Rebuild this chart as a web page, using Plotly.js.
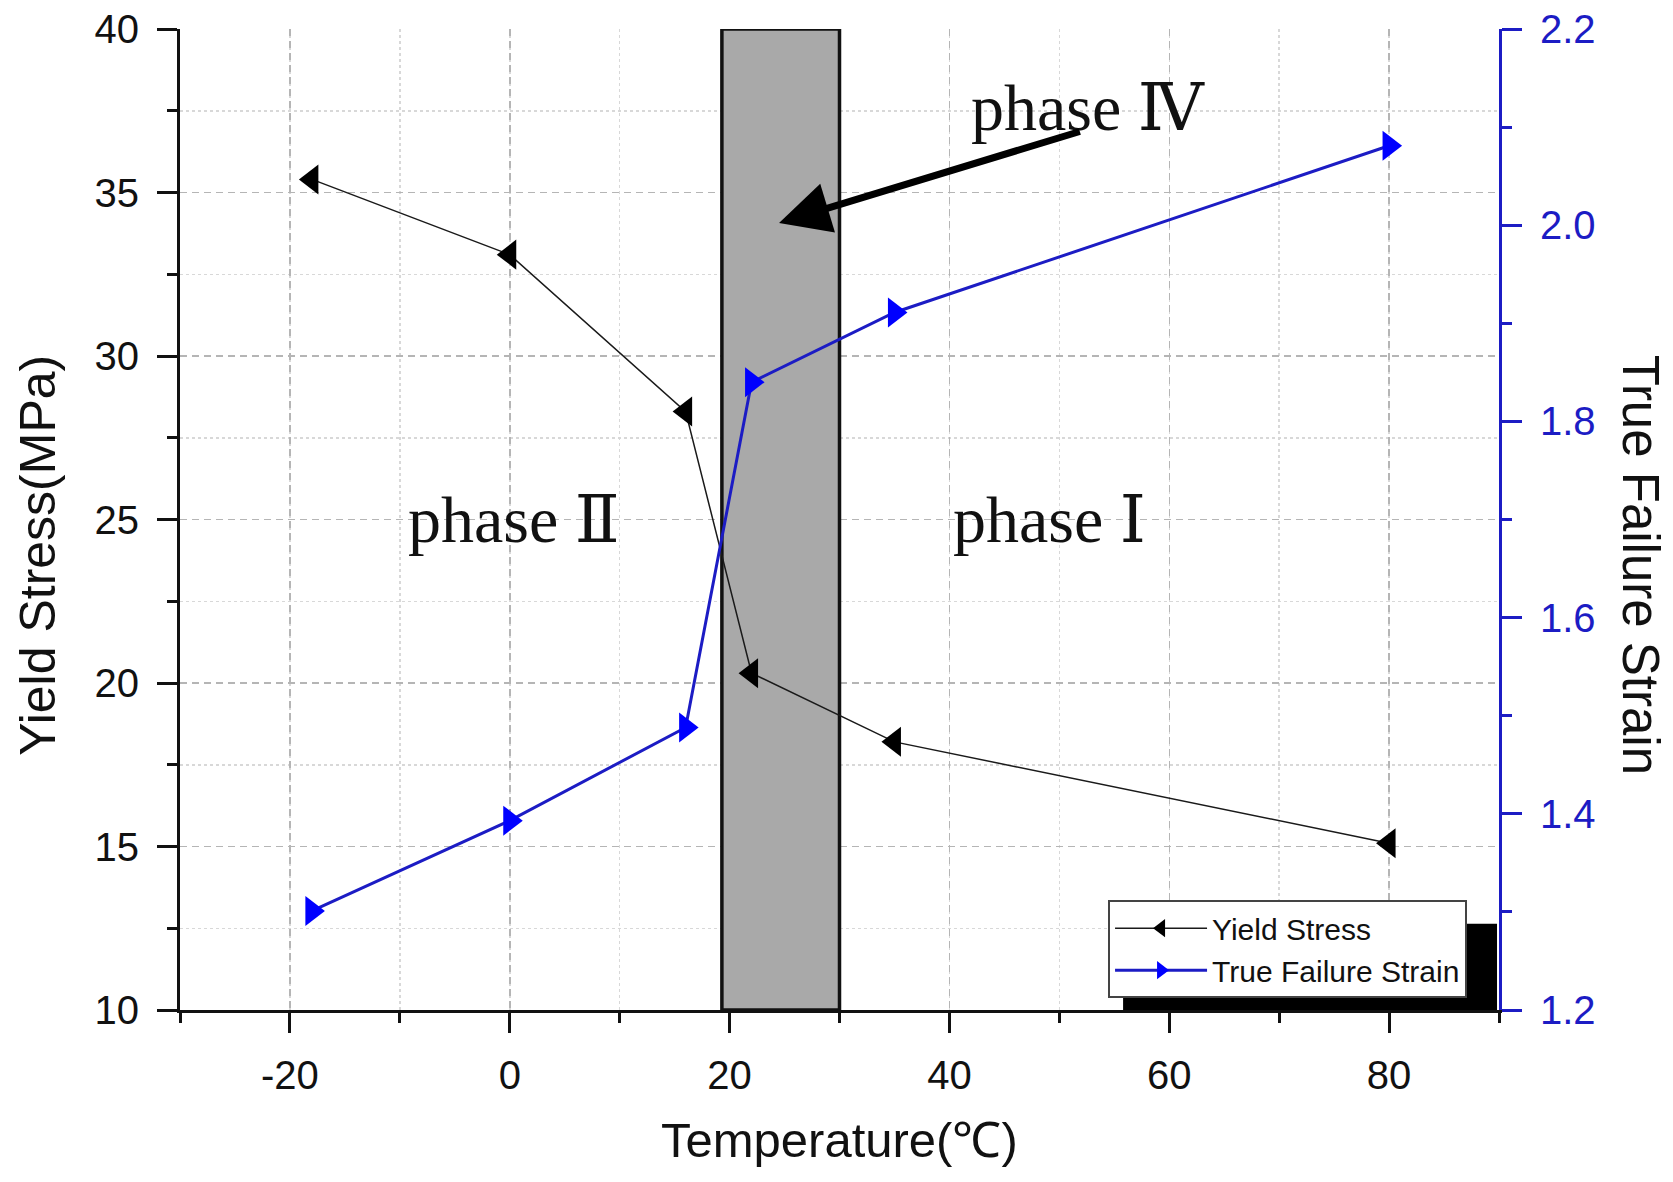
<!DOCTYPE html>
<html>
<head>
<meta charset="utf-8">
<script src="https://cdn.plot.ly/plotly-3.0.1.min.js"></script>
<style>
  html, body { margin: 0; padding: 0; background: #fff; }
  #chart { width: 1673px; height: 1182px; }
</style>
</head>
<body>
<div id="chart"></div>
<script>
// temperatures of the test points (deg C)
var temperature = [-18, 0, 16, 22, 35, 80];
// yield stress, left axis (MPa)
var yieldStress = [35.4, 33.1, 28.3, 20.3, 18.2, 15.1];
// true failure strain, right axis
var failureStrain = [1.301, 1.393, 1.488, 1.840, 1.911, 2.081];

// x tick labels (plain hyphen for negatives, as in the original)
var xTickVals = [-20, 0, 20, 40, 60, 80];
var xTickText = ["-20", "0", "20", "40", "60", "80"];

// phase IV band (deg C)
var bandRange = [19.3, 30];

var sans = "Liberation Sans, Arial, sans-serif";
var serif = "Liberation Serif, Times New Roman, DejaVu Serif, serif";
var blue = "#1c1cc4";

var traces = [
  {
    type: "scatter",
    mode: "lines+markers",
    name: "Yield Stress",
    x: temperature,
    y: yieldStress,
    xaxis: "x",
    yaxis: "y",
    line: { color: "#1a1a1a", width: 1.5 },
    marker: { symbol: "triangle-left", size: 26, color: "#000" },
  },
  {
    type: "scatter",
    mode: "lines+markers",
    name: "True Failure Strain",
    x: temperature,
    y: failureStrain,
    xaxis: "x",
    yaxis: "y2",
    line: { color: blue, width: 3 },
    marker: { symbol: "triangle-right", size: 26, color: "#0000ff" },
  },
];

var majorGrid = { gridcolor: "#b5b5b5", gridwidth: 1.5, griddash: "7px,5px" };
var minorGrid = { showgrid: true, gridcolor: "#d8d8d8", gridwidth: 1.5, griddash: "3px,3px" };

var layout = {
  width: 1673,
  height: 1182,
  margin: { l: 180, r: 174, t: 29, b: 172 },
  paper_bgcolor: "#fff",
  plot_bgcolor: "#fff",
  font: { family: sans, color: "#111", size: 40 },
  showlegend: true,
  legend: {
    x: 0.7036,
    y: 0.112,
    xanchor: "left",
    yanchor: "top",
    bgcolor: "#fff",
    bordercolor: "#444",
    borderwidth: 2,
    font: { family: sans, size: 30, color: "#111" },
    itemwidth: 92,
    tracegroupgap: 0,
  },
  xaxis: {
    range: [-30, 90],
    tickmode: "array",
    tickvals: xTickVals,
    ticktext: xTickText,
    ticks: "outside",
    ticklen: 20,
    tickwidth: 3,
    tickcolor: "#111",
    ticklabelstandoff: 8,
    tickfont: { family: sans, size: 40, color: "#111" },
    showline: true,
    linewidth: 3,
    linecolor: "#111",
    zeroline: false,
    showgrid: true,
    gridcolor: majorGrid.gridcolor,
    gridwidth: majorGrid.gridwidth,
    griddash: majorGrid.griddash,
    minor: Object.assign({ dtick: 10, tick0: -30, ticks: "outside", ticklen: 10, tickwidth: 3, tickcolor: "#111" }, minorGrid),
  },
  xaxis2: {
    overlaying: "x",
    matches: "x",
    side: "top",
    anchor: "y",
    range: [-30, 90],
    dtick: 20,
    tick0: -20,
    ticks: "inside",
    ticklen: 20,
    tickwidth: 3,
    tickcolor: "#111",
    showticklabels: false,
    showline: true,
    linewidth: 3,
    linecolor: "#111",
    showgrid: false,
    zeroline: false,
    minor: { dtick: 10, tick0: -30, ticks: "inside", ticklen: 10, tickwidth: 3, tickcolor: "#111" },
  },
  yaxis: {
    range: [10, 40],
    dtick: 5,
    tick0: 10,
    ticks: "outside",
    ticklen: 20,
    tickwidth: 3,
    tickcolor: "#111",
    ticklabelstandoff: 10,
    tickfont: { family: sans, size: 40, color: "#111" },
    showline: true,
    linewidth: 3,
    linecolor: "#111",
    zeroline: false,
    showgrid: true,
    gridcolor: majorGrid.gridcolor,
    gridwidth: majorGrid.gridwidth,
    griddash: majorGrid.griddash,
    minor: Object.assign({ dtick: 2.5, tick0: 10, ticks: "outside", ticklen: 10, tickwidth: 3, tickcolor: "#111" }, minorGrid),
  },
  yaxis2: {
    overlaying: "y",
    side: "right",
    anchor: "x",
    range: [1.2, 2.2],
    dtick: 0.2,
    tick0: 1.2,
    tickformat: ".1f",
    ticks: "outside",
    ticklen: 20,
    tickwidth: 3,
    tickcolor: blue,
    ticklabelstandoff: 10,
    tickfont: { family: sans, size: 40, color: blue },
    showline: true,
    linewidth: 3,
    linecolor: blue,
    showgrid: false,
    zeroline: false,
    minor: { dtick: 0.1, tick0: 1.2, ticks: "outside", ticklen: 10, tickwidth: 3, tickcolor: blue },
  },
  shapes: [
    {
      type: "rect",
      xref: "x",
      yref: "y",
      x0: bandRange[0],
      x1: bandRange[1],
      y0: 10,
      y1: 40,
      fillcolor: "#a9a9a9",
      line: { color: "#111", width: 3.5 },
      layer: "between",
    },
    {
      // legend drop shadow
      type: "rect",
      xref: "paper",
      yref: "paper",
      x0: 0.715,
      x1: 0.9985,
      y0: 0,
      y1: 0.0878,
      fillcolor: "#000",
      line: { width: 0 },
      layer: "above",
    },
  ],
  annotations: [
    {
      xref: "paper", yref: "paper", x: 0.5, y: 0, xanchor: "center", yanchor: "middle", yshift: -130,
      text: "Temperature(℃)", showarrow: false,
      font: { family: sans, size: 49, color: "#111" },
    },
    {
      xref: "paper", yref: "paper", x: 0, y: 0.463, xanchor: "center", yanchor: "middle", xshift: -142, textangle: -90,
      text: "Yield Stress(MPa)", showarrow: false,
      font: { family: sans, size: 50, color: "#111" },
    },
    {
      xref: "paper", yref: "paper", x: 1, y: 0.454, xanchor: "center", yanchor: "middle", xshift: 141, textangle: 90,
      text: "True Failure Strain", showarrow: false,
      font: { family: sans, size: 51, color: "#111" },
    },
    {
      xref: "x", yref: "y", x: 0.4, y: 25, text: "phase Ⅱ", showarrow: false,
      font: { family: serif, size: 66, color: "#111" },
    },
    {
      xref: "x", yref: "y", x: 49.1, y: 25, text: "phase Ⅰ", showarrow: false,
      font: { family: serif, size: 66, color: "#111" },
    },
    {
      xref: "x", yref: "y", x: 52.6, y: 37.6, text: "phase Ⅳ", showarrow: false,
      font: { family: serif, size: 66, color: "#111" },
    },
    {
      // arrow pointing into the phase IV band
      xref: "x", yref: "y", x: 24.5, y: 34.07,
      axref: "x", ayref: "y", ax: 52.0, ay: 36.88,
      text: "", showarrow: true,
      arrowhead: 2, arrowsize: 1.45, arrowwidth: 7, arrowcolor: "#000",
    },
  ],
};

Plotly.newPlot("chart", traces, layout, { displayModeBar: false, staticPlot: true });
</script>
</body>
</html>
